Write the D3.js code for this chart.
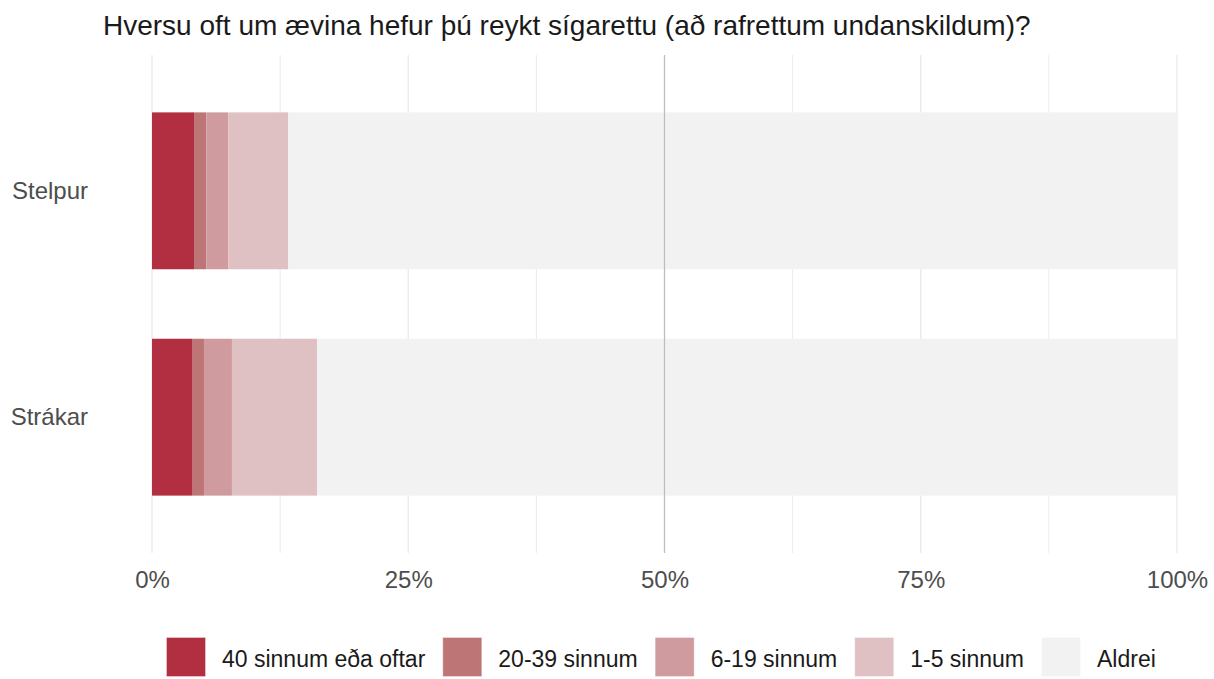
<!DOCTYPE html>
<html><head><meta charset="utf-8">
<script src="https://cdn.jsdelivr.net/npm/d3@7"></script>
<style>body{margin:0;background:#fff}svg{display:block;font-family:"Liberation Sans",Arial,sans-serif}</style>
</head><body>
<svg id="c" width="1214" height="679"></svg>
<script>
const title = "Hversu oft um ævina hefur þú reykt sígarettu (að rafrettum undanskildum)?";
const groups = ["Stelpur", "Strákar"];
const categories = ["40 sinnum eða oftar", "20-39 sinnum", "6-19 sinnum", "1-5 sinnum", "Aldrei"];
const colors = ["#b22e41", "#bd7576", "#cf9b9e", "#dfc1c3", "#f2f2f2"];
const stelpur = [4.1, 1.2, 2.15, 5.85, 86.7];
const strakar = [3.97, 1.1, 2.73, 8.3, 83.9];
const tickValues = [0, 25, 50, 75, 100];
const tickLabels = ["0%", "25%", "50%", "75%", "100%"];
const values = [stelpur, strakar];

const FONT = "Liberation Sans, Arial, sans-serif";
const svg = d3.select("#c");
const x = d3.scaleLinear().domain([0, 100]).range([152, 1177]);
const y = d3.scaleBand().domain(groups).range([55, 553]).paddingInner(0.307).paddingOuter(0.2535);

// grid
const minor = [12.5, 37.5, 62.5, 87.5];
svg.append("g").selectAll("line").data(tickValues.concat(minor)).join("line")
  .attr("x1", d => x(d)).attr("x2", d => x(d)).attr("y1", 55).attr("y2", 553)
  .attr("stroke", "#ebebeb").attr("stroke-width", d => minor.includes(d) ? 1 : 1.4);

// bars
groups.forEach((g, gi) => {
  let acc = 0;
  const segs = values[gi].map((v, i) => { const s = {x0: acc, x1: acc + v, c: colors[i]}; acc += v; return s; });
  svg.append("g").selectAll("rect").data(segs).join("rect")
    .attr("x", d => x(d.x0)).attr("width", d => x(d.x1) - x(d.x0))
    .attr("y", y(g)).attr("height", y.bandwidth())
    .attr("fill", d => d.c);
});

// 50% reference line
svg.append("line").attr("x1", x(50)).attr("x2", x(50)).attr("y1", 55).attr("y2", 553)
  .attr("stroke", "#bdbdbd").attr("stroke-width", 1.2);

// axes
const xAxis = d3.axisBottom(x).tickValues(tickValues).tickFormat((d, i) => tickLabels[i]).tickSize(0).tickPadding(0);
const gx = svg.append("g").attr("transform", "translate(0,571)").call(xAxis);
gx.select(".domain").remove();
gx.selectAll("text").attr("font-size", 24).attr("fill", "#4d4d4d").attr("font-family", FONT);

const yAxis = d3.axisLeft(y).tickSize(0).tickPadding(0);
const gy = svg.append("g").attr("transform", "translate(88,0)").call(yAxis);
gy.select(".domain").remove();
gy.selectAll("text").attr("font-size", 24).attr("fill", "#4d4d4d").attr("font-family", FONT);

// title
svg.append("text").attr("x", 103).attr("y", 35).attr("font-size", 28).attr("fill", "#1a1a1a").text(title);

// legend
const lg = svg.append("g");
let lx = 166;
categories.forEach((c, i) => {
  lg.append("rect").attr("x", lx + 0.5).attr("y", 637.5).attr("width", 39).attr("height", 39)
    .attr("fill", colors[i]).attr("stroke", "#ffffff").attr("stroke-opacity", 0.35);
  const t = lg.append("text").attr("x", lx + 56).attr("y", 667).attr("font-size", 23).attr("fill", "#1a1a1a").text(c);
  lx = lx + 56 + t.node().getComputedTextLength() + 17;
});
</script>
</body></html>
